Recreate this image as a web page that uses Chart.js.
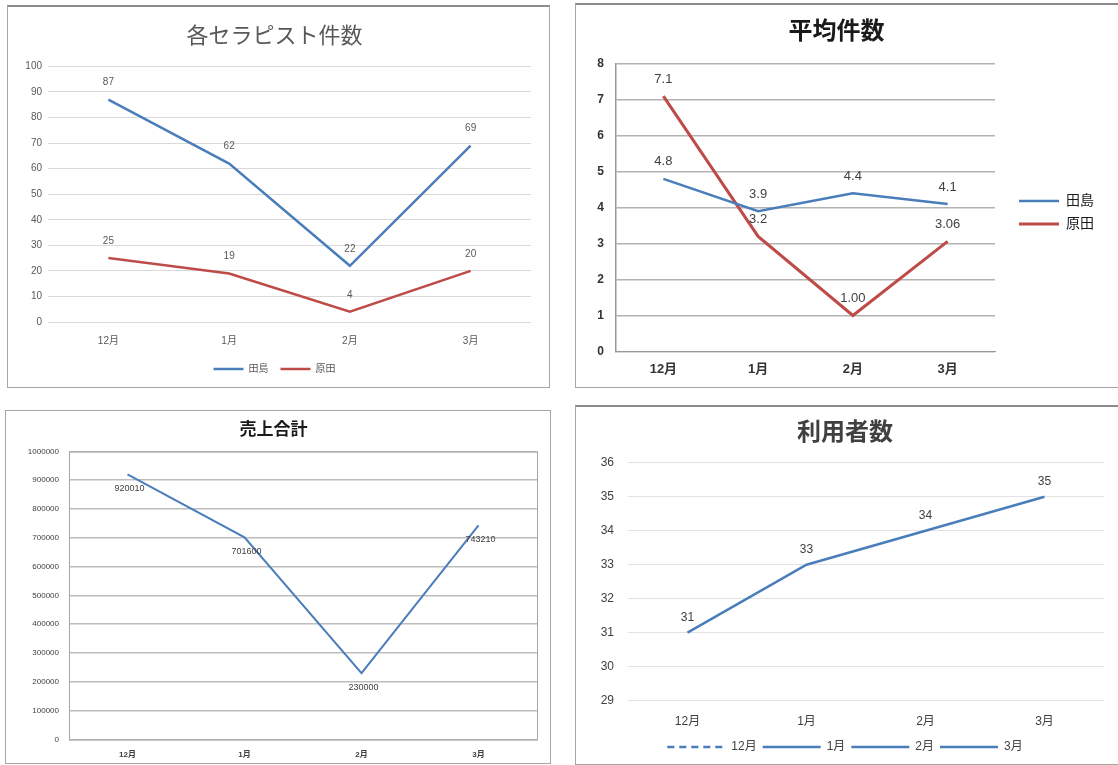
<!DOCTYPE html>
<html>
<head>
<meta charset="utf-8">
<script src="https://cdn.jsdelivr.net/npm/chart.js@4"></script>
<style>
  body { margin: 0; background: #fff; width: 1118px; height: 765px; position: relative; overflow: hidden; }
  .panel { position: absolute; border: 1px solid #a6a6a6; background: #fff; box-sizing: border-box; }
  #p1 { left: 7px; top: 5px; width: 543px; height: 383px; border-top: 2px solid #8c8c8c; }
  #p2 { left: 575px; top: 3px; width: 545px; height: 385px; border-top: 2px solid #8c8c8c; }
  #p3 { left: 5px; top: 410px; width: 546px; height: 354px; }
  #p4 { left: 575px; top: 405px; width: 545px; height: 360px; border-top: 2px solid #8c8c8c; }
  canvas { display: block; }
</style>
</head>
<body>
<div class="panel" id="p1"><canvas id="chart1" width="540" height="380"></canvas></div>
<div class="panel" id="p2"><canvas id="chart2" width="542" height="382"></canvas></div>
<div class="panel" id="p3"><canvas id="chart3" width="544" height="352"></canvas></div>
<div class="panel" id="p4"><canvas id="chart4" width="542" height="356"></canvas></div>
<script>
// データ
const months = ['12月', '1月', '2月', '3月'];
const seriesNames = ['田島', '原田'];

// 各セラピスト件数
const tajimaCount = [87, 62, 22, 69];
const haradaCount = [25, 19, 4, 20];

// 平均件数
const tajimaAvg = [4.8, 3.9, 4.4, 4.1];
const haradaAvg = [7.1, 3.2, 1.0, 3.06];
const haradaAvgLabels = ['7.1', '3.2', '1.00', '3.06'];

// 売上合計
const salesTotal = [920010, 701600, 230000, 743210];

// 利用者数
const userCount = [31, 33, 34, 35];

const blue = '#4a7ebb';
const red = '#be4b48';
const FONT = '"Liberation Sans", "Noto Sans CJK JP", sans-serif';

// 点の上下に値を書く
const valueLabels = {
    id: 'valueLabels',
    afterDatasetsDraw(chart) {
        const ctx = chart.ctx;
        chart.data.datasets.forEach((ds, i) => {
            const meta = chart.getDatasetMeta(i);
            const lab = ds.valueLabel;
            if (!lab) return;
            ctx.save();
            ctx.font = lab.font;
            ctx.fillStyle = lab.color;
            ctx.textAlign = 'center';
            ctx.textBaseline = 'middle';
            meta.data.forEach((pt, j) => {
                const txt = ds.labelTexts ? ds.labelTexts[j] : String(ds.data[j]);
                ctx.fillText(txt, pt.x + (lab.dx || 0), pt.y + lab.dy);
            });
            ctx.restore();
        });
    }
};

// 売上合計の枠線
const plotFrame = {
    id: 'plotFrame',
    afterDraw(chart, args, opts) {
        if (!opts.color) return;
        const a = chart.chartArea;
        chart.ctx.save();
        chart.ctx.strokeStyle = opts.color;
        chart.ctx.lineWidth = 1;
        chart.ctx.strokeRect(a.left + 0.5, a.top + 0.5, a.right - a.left, a.bottom - a.top);
        chart.ctx.restore();
    }
};

// 右側の凡例を少しずらす
const legendShift = {
    id: 'legendShift',
    afterLayout(chart, args, opts) {
        if (!chart.legend || !opts.dx) return;
        chart.legend.left += opts.dx;
        chart.legend.right += opts.dx;
        chart.legend.top += opts.dy || 0;
        chart.legend.bottom += opts.dy || 0;
    }
};
Chart.register(valueLabels, plotFrame, legendShift);

function fixWidth(w) {
    return function(scale) { scale.width = w; };
}

// 各セラピスト件数
new Chart(document.getElementById('chart1'), {
    type: 'line',
    data: {
        labels: months,
        datasets: [{
            label: seriesNames[0],
            data: tajimaCount,
            borderColor: blue,
            backgroundColor: blue,
            borderWidth: 2.5,
            pointRadius: 0,
            valueLabel: { font: '10px ' + FONT, color: '#595959', dy: -17 }
        }, {
            label: seriesNames[1],
            data: haradaCount,
            borderColor: red,
            backgroundColor: red,
            borderWidth: 2.5,
            pointRadius: 0,
            valueLabel: { font: '10px ' + FONT, color: '#595959', dy: -17 }
        }]
    },
    options: {
        responsive: false,
        animation: false,
        layout: { padding: { left: 10, right: 17, bottom: 3 } },
        plugins: {
            title: {
                display: true,
                text: '各セラピスト件数',
                color: '#595959',
                font: { family: FONT, size: 22, weight: 'normal' },
                padding: { top: 17, bottom: 16 }
            },
            legend: {
                position: 'bottom',
                labels: {
                    usePointStyle: true,
                    pointStyle: 'line',
                    pointStyleWidth: 30,
                    color: '#595959',
                    font: { family: FONT, size: 10 },
                    padding: 12
                }
            },
            tooltip: { enabled: false }
        },
        scales: {
            x: {
                offset: true,
                grid: { display: false },
                border: { display: false },
                ticks: { color: '#595959', font: { family: FONT, size: 10 }, padding: 5 }
            },
            y: {
                min: 0,
                max: 100,
                afterFit: fixWidth(30),
                ticks: { stepSize: 10, color: '#595959', font: { family: FONT, size: 10 }, padding: 6 },
                grid: { color: '#d9d9d9', drawTicks: false },
                border: { display: false }
            }
        }
    }
});

// 平均件数
new Chart(document.getElementById('chart2'), {
    type: 'line',
    data: {
        labels: months,
        datasets: [{
            label: seriesNames[0],
            data: tajimaAvg,
            borderColor: blue,
            backgroundColor: blue,
            borderWidth: 2.5,
            pointRadius: 0,
            valueLabel: { font: '13px ' + FONT, color: '#404040', dy: -17 }
        }, {
            label: seriesNames[1],
            data: haradaAvg,
            labelTexts: haradaAvgLabels,
            borderColor: red,
            backgroundColor: red,
            borderWidth: 3,
            pointRadius: 0,
            valueLabel: { font: '13px ' + FONT, color: '#404040', dy: -17 }
        }]
    },
    options: {
        responsive: false,
        animation: false,
        layout: { padding: { left: 8, right: 29, bottom: 8 } },
        plugins: {
            title: {
                display: true,
                text: '平均件数',
                color: '#1a1a1a',
                font: { family: FONT, size: 24, weight: 'bold' },
                padding: { top: 13, bottom: 17 }
            },
            legend: {
                position: 'right',
                fullSize: false,
                labels: {
                    usePointStyle: true,
                    pointStyle: 'line',
                    pointStyleWidth: 40,
                    color: '#1a1a1a',
                    font: { family: FONT, size: 14 },
                    padding: 9
                }
            },
            legendShift: { dx: 15, dy: 5 },
            tooltip: { enabled: false }
        },
        scales: {
            x: {
                offset: true,
                grid: { display: false },
                border: { display: true, color: '#999' },
                ticks: { color: '#333', font: { family: FONT, size: 13, weight: 'bold' }, padding: 2 }
            },
            y: {
                min: 0,
                max: 8,
                afterFit: fixWidth(32),
                ticks: { stepSize: 1, color: '#333', font: { family: FONT, size: 12, weight: 'bold' }, padding: 12 },
                grid: { color: '#b3b3b3', lineWidth: 1.5, drawTicks: false },
                border: { display: true, color: '#999', width: 1.5 }
            }
        }
    }
});

// 売上合計
new Chart(document.getElementById('chart3'), {
    type: 'line',
    data: {
        labels: months,
        datasets: [{
            label: '売上合計',
            data: salesTotal,
            borderColor: blue,
            backgroundColor: blue,
            borderWidth: 2,
            pointRadius: 0,
            valueLabel: { font: '9px ' + FONT, color: '#404040', dy: 14, dx: 2 }
        }]
    },
    options: {
        responsive: false,
        animation: false,
        layout: { padding: { left: 4, right: 13, bottom: 0 } },
        plugins: {
            title: {
                display: true,
                text: '売上合計',
                color: '#1a1a1a',
                font: { family: FONT, size: 17, weight: 'bold' },
                padding: { top: 9, bottom: 11 }
            },
            legend: { display: false },
            tooltip: { enabled: false },
            plotFrame: { color: '#a6a6a6' }
        },
        scales: {
            x: {
                offset: true,
                grid: { display: false },
                border: { display: false },
                ticks: { color: '#404040', font: { family: FONT, size: 8, weight: 'bold' }, padding: 3 }
            },
            y: {
                min: 0,
                max: 1000000,
                afterFit: fixWidth(59),
                ticks: {
                    stepSize: 100000,
                    color: '#404040',
                    font: { family: FONT, size: 8 },
                    padding: 10,
                    callback: function(v) { return String(v); }
                },
                grid: { color: '#bdbdbd', lineWidth: 1.5, drawTicks: false },
                border: { display: false }
            }
        }
    }
});

// 利用者数
new Chart(document.getElementById('chart4'), {
    type: 'line',
    data: {
        labels: months,
        datasets: [{
            label: '利用者数',
            data: userCount,
            borderColor: blue,
            backgroundColor: blue,
            borderWidth: 2.5,
            pointRadius: 0,
            valueLabel: { font: '12px ' + FONT, color: '#404040', dy: -15 }
        }]
    },
    options: {
        responsive: false,
        animation: false,
        layout: { padding: { left: 10, right: 14, bottom: 0 } },
        plugins: {
            title: {
                display: true,
                text: '利用者数',
                color: '#404040',
                font: { family: FONT, size: 24, weight: 'bold' },
                padding: { top: 12, bottom: 15 }
            },
            legend: {
                position: 'bottom',
                labels: {
                    usePointStyle: true,
                    pointStyleWidth: 58,
                    color: '#404040',
                    font: { family: FONT, size: 12 },
                    padding: 6,
                    generateLabels: function() {
                        return months.map((m, i) => ({
                            text: m,
                            pointStyle: 'line',
                            strokeStyle: blue,
                            fillStyle: blue,
                            lineWidth: 2.5,
                            lineDash: i === 0 ? [7, 5] : [],
                            fontColor: '#404040',
                            hidden: false,
                            datasetIndex: 0
                        }));
                    }
                },
                onClick: function() {}
            },
            tooltip: { enabled: false }
        },
        scales: {
            x: {
                offset: true,
                grid: { display: false },
                border: { display: false },
                ticks: { color: '#404040', font: { family: FONT, size: 12 }, padding: 6 }
            },
            y: {
                min: 29,
                max: 36,
                afterFit: fixWidth(42),
                ticks: { stepSize: 1, color: '#404040', font: { family: FONT, size: 12 }, padding: 14 },
                grid: { color: '#e3e3e3', drawTicks: false },
                border: { display: false }
            }
        }
    }
});
</script>
</body>
</html>
